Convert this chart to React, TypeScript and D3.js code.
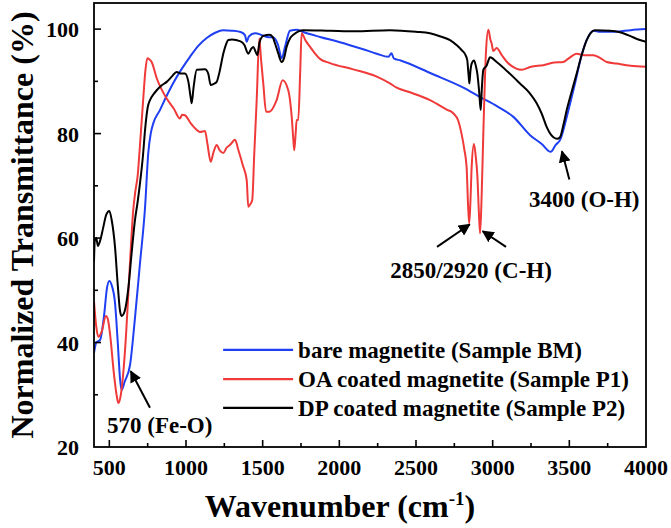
import { useEffect } from 'react'
import * as d3 from 'd3'

// FTIR spectra, [wavenumber (cm-1), normalized transmittance (%)]
const bareMagnetite: [number, number][] = [
  [400, 38], [415, 40], [440, 40.5], [465, 45], [485, 50.5], [500, 51.8], [515, 51], [537, 47.6],
  [555, 40], [570, 33], [580, 30.9], [600, 32.5], [635, 35.7], [665, 44], [700, 55.2], [733, 65.9],
  [754, 76.3], [770, 80], [787, 82], [830, 84.5], [870, 87], [917, 89.7], [970, 92.3], [1026, 94.7],
  [1080, 96.8], [1135, 98.3], [1190, 99.3], [1242, 99.8], [1300, 99.7], [1360, 99.4], [1385, 98.8],
  [1396, 97.6], [1410, 98.6], [1450, 99.2], [1500, 98.8], [1530, 98.5], [1570, 98.4], [1600, 97],
  [1624, 94.4], [1645, 96.5], [1678, 99.7], [1723, 99.9], [1760, 99.5], [1874, 98.5], [2004, 97.5],
  [2150, 96.2], [2244, 95.3], [2320, 94.7], [2340, 95.4], [2355, 94.4], [2400, 94], [2600, 91.5],
  [2809, 88.8], [2918, 87], [3030, 85.2], [3135, 83.2], [3244, 79.7], [3320, 78], [3379, 76.5],
  [3410, 77.8], [3440, 78.8], [3490, 84], [3537, 89.6], [3580, 95], [3613, 97.9], [3657, 99.7],
  [3700, 99.5], [3800, 99.5], [3900, 99.8], [4000, 100],
]

const oaCoated: [number, number][] = [
  [400, 47.8], [415, 43], [428, 41.1], [450, 42.1], [478, 45.1], [490, 44.5], [504, 41.8], [530, 34],
  [550, 29.5], [559, 28.4], [575, 30], [591, 34.2], [610, 42], [624, 49.4], [640, 58], [656, 65.4],
  [670, 69], [685, 72], [696, 76.2], [710, 82], [722, 87], [735, 92], [748, 94.4], [762, 94.2],
  [776, 93.7], [809, 90.6], [840, 88.5], [874, 86.7], [920, 84.8], [961, 82.9], [975, 83.6],
  [993, 83.5], [1030, 82], [1070, 80.7], [1090, 80.3], [1124, 80.5], [1140, 78], [1161, 74.6],
  [1180, 76.5], [1200, 77.8], [1220, 76.8], [1243, 76.3], [1265, 77.3], [1286, 77.8], [1320, 78.8],
  [1341, 76.9], [1370, 74], [1396, 71.1], [1406, 66], [1420, 66.5], [1432, 67.3], [1445, 76],
  [1461, 86.4], [1478, 98.2], [1490, 94], [1504, 89.6], [1522, 84.2], [1544, 84.2], [1591, 86.4],
  [1630, 90.2], [1667, 88.3], [1690, 83], [1700, 78.8], [1706, 76.8], [1715, 80], [1722, 82.6],
  [1732, 82.6], [1745, 92], [1754, 99.2], [1780, 97.8], [1809, 96.6], [1874, 94.3], [1939, 93.5],
  [2091, 92.3], [2244, 90.9], [2330, 89.6], [2374, 88.8], [2450, 88], [2591, 86.4], [2700, 84.6],
  [2743, 83.9], [2775, 82.5], [2797, 80], [2815, 77], [2830, 73.6], [2840, 66], [2847, 62.8],
  [2855, 67], [2863, 73.6], [2878, 78], [2890, 75.5], [2900, 72], [2910, 65], [2918, 60.9],
  [2928, 68], [2939, 80], [2957, 96], [2972, 99.9], [2985, 98], [2993, 97.3], [3004, 95.8],
  [3026, 96.4], [3060, 95], [3100, 93.5], [3150, 92.5], [3189, 92.2], [3250, 92.8], [3330, 93.1],
  [3400, 93.6], [3461, 93.7], [3500, 94.5], [3548, 95.3], [3600, 95], [3657, 95], [3700, 94.5],
  [3744, 93.7], [3809, 93.4], [3900, 93], [4000, 92.8],
]

const dpCoated: [number, number][] = [
  [400, 55.5], [405, 59.5], [415, 60], [425, 58.5], [440, 59.5], [460, 62], [480, 64.5], [500, 65.2],
  [515, 63.5], [537, 58.3], [555, 51], [570, 46], [580, 45.1], [600, 46], [624, 50.4], [645, 57],
  [667, 63.4], [685, 67], [700, 70.5], [720, 76], [733, 80.7], [750, 85], [765, 86.4], [790, 87.6],
  [809, 88.3], [840, 89.2], [874, 89.9], [910, 91], [939, 91.8], [965, 91.5], [993, 91.5],
  [1015, 90], [1030, 87], [1037, 85.8], [1050, 89], [1070, 92.2], [1124, 92.3], [1145, 91.5],
  [1161, 89.3], [1180, 89.5], [1200, 89.9], [1220, 92], [1243, 95.3], [1260, 97], [1276, 97.9],
  [1300, 98], [1352, 97.7], [1380, 97], [1406, 95.3], [1425, 96.2], [1439, 96.6], [1452, 95.8],
  [1465, 95], [1480, 97.5], [1504, 98.7], [1544, 98.9], [1565, 98.5], [1580, 97.3], [1600, 95.5],
  [1624, 93.7], [1640, 94.5], [1656, 96.6], [1680, 98.3], [1700, 98.9], [1765, 99.8], [1939, 99.7],
  [2100, 99.6], [2330, 99.8], [2500, 99.5], [2591, 99.2], [2660, 98.6], [2722, 97.9], [2770, 96.8],
  [2797, 96], [2820, 95.2], [2834, 94.1], [2842, 91.5], [2848, 89.6], [2855, 92], [2863, 93.4],
  [2878, 94], [2890, 93], [2900, 91.5], [2912, 88], [2922, 84.5], [2930, 89], [2939, 92.2],
  [2960, 93], [2983, 94.6], [3026, 93.7], [3100, 91.8], [3178, 89.6], [3240, 87.8], [3287, 85.8],
  [3320, 83.8], [3352, 81.3], [3380, 79.8], [3396, 79.3], [3420, 79], [3439, 79.3], [3460, 81.5],
  [3483, 84.5], [3515, 88], [3548, 91.5], [3580, 95], [3613, 97.9], [3640, 99.3], [3667, 99.8],
  [3765, 99.7], [3830, 99.4], [3896, 98.7], [3950, 98], [4000, 97.6],
]

const seriesNames = [
  'bare magnetite (Sample BM)',
  'OA coated magnetite (Sample P1)',
  'DP coated magnetite (Sample P2)',
]
const seriesColors = ['#1f3ff2', '#f03a3a', '#000000']

const xMajorTicks = [500, 1000, 1500, 2000, 2500, 3000, 3500, 4000]
const xMinorTicks = [750, 1250, 1750, 2250, 2750, 3250, 3750]
const yMajorTicks = [20, 40, 60, 80, 100]
const yMinorTicks = [30, 50, 70, 90]

// peak annotations: label anchor and arrow(s) from tail to head, in data units
const peakLabels = [
  { text: '570 (Fe-O)', x: 485, y: 22.7, anchor: 'start' },
  { text: '2850/2920 (C-H)', x: 2859, y: 52.3, anchor: 'middle' },
  { text: '3400 (O-H)', x: 3237, y: 65.9, anchor: 'start' },
]
const peakArrows: [number, number, number, number][] = [
  [765, 27.5, 640, 34.5],
  [2637, 58.3, 2850, 62.6],
  [3087, 58.3, 2935, 61.3],
  [3500, 71.2, 3452, 76.6],
]

const W = 671
const H = 528
const margin = { top: 3, right: 25, bottom: 81, left: 94 }
const FONT = '"Liberation Serif", "Times New Roman", serif'

export default function App() {
  useEffect(() => {
    document.body.style.margin = '0'
  }, [])

  const x = d3.scaleLinear().domain([400, 4000]).range([margin.left, W - margin.right])
  const y = d3.scaleLinear().domain([20, 105]).range([H - margin.bottom, margin.top])

  const line = d3.line<[number, number]>()
    .x(d => x(d[0]))
    .y(d => y(d[1]))
    .curve(d3.curveMonotoneX)

  const series = [bareMagnetite, oaCoated, dpCoated]
  const x0 = x.range()[0]
  const x1 = x.range()[1]
  const yb = y.range()[0]
  const yt = y.range()[1]

  // legend sits inside the plot, lower right
  const legendX = x(1242)
  const legendRows = [38.6, 33.0, 27.5].map(v => y(v))

  return (
    <svg width={W} height={H} style={{ display: 'block', background: '#fff' }} fontFamily={FONT} fontWeight="bold">
      <defs>
        <marker id="ah" viewBox="0 0 10 10" refX="9" refY="5" markerWidth="6" markerHeight="6" orient="auto">
          <path d="M0,0 L10,5 L0,10 Z" fill="#000" />
        </marker>
        <clipPath id="plot">
          <rect x={x0} y={yt} width={x1 - x0} height={yb - yt} />
        </clipPath>
      </defs>

      <g clipPath="url(#plot)">
        {series.map((s, i) => (
          <path key={i} d={line(s) ?? ''} fill="none" stroke={seriesColors[i]} strokeWidth={2} strokeLinejoin="round" />
        ))}
      </g>

      {/* frame */}
      <rect x={x0} y={yt} width={x1 - x0} height={yb - yt} fill="none" stroke="#000" strokeWidth={1.8} />

      {/* x ticks */}
      {xMajorTicks.filter(t => t < 4000).map(t => (
        <line key={'xM' + t} x1={x(t)} x2={x(t)} y1={yb} y2={yb - 7} stroke="#000" strokeWidth={1.6} />
      ))}
      {xMinorTicks.map(t => (
        <line key={'xm' + t} x1={x(t)} x2={x(t)} y1={yb} y2={yb - 4} stroke="#000" strokeWidth={1.6} />
      ))}
      {xMajorTicks.map(t => (
        <text key={'xl' + t} x={x(t)} y={yb + 28} textAnchor="middle" fontSize={22}>{t}</text>
      ))}

      {/* y ticks */}
      {yMajorTicks.filter(t => t > 20).map(t => (
        <line key={'yM' + t} x1={x0} x2={x0 + 7} y1={y(t)} y2={y(t)} stroke="#000" strokeWidth={1.6} />
      ))}
      {yMinorTicks.map(t => (
        <line key={'ym' + t} x1={x0} x2={x0 + 4} y1={y(t)} y2={y(t)} stroke="#000" strokeWidth={1.6} />
      ))}
      {yMajorTicks.map(t => (
        <text key={'yl' + t} x={x0 - 15} y={y(t) + 8} textAnchor="end" fontSize={22}>{t}</text>
      ))}

      {/* axis titles */}
      <text x={(x0 + x1) / 2 - 30} y={517} textAnchor="middle" fontSize={32}>
        Wavenumber (cm<tspan dy={-12} fontSize={19}>-1</tspan><tspan dy={12}>)</tspan>
      </text>
      <text transform={`translate(33, ${(yt + yb) / 2}) rotate(-90)`} textAnchor="middle" fontSize={32}>
        Normalized Transmittance (%)
      </text>

      {/* annotations */}
      {peakLabels.map(p => (
        <text key={p.text} x={x(p.x)} y={y(p.y)} textAnchor={p.anchor} fontSize={23}>{p.text}</text>
      ))}
      {peakArrows.map((a, i) => (
        <line key={'ar' + i} x1={x(a[0])} y1={y(a[1])} x2={x(a[2])} y2={y(a[3])} stroke="#000" strokeWidth={2} markerEnd="url(#ah)" />
      ))}

      {/* legend */}
      {seriesNames.map((name, i) => (
        <g key={name}>
          <line x1={legendX} x2={legendX + 70} y1={legendRows[i]} y2={legendRows[i]} stroke={seriesColors[i]} strokeWidth={2.2} />
          <text x={legendX + 75} y={legendRows[i] + 8} fontSize={23}>{name}</text>
        </g>
      ))}
    </svg>
  )
}
